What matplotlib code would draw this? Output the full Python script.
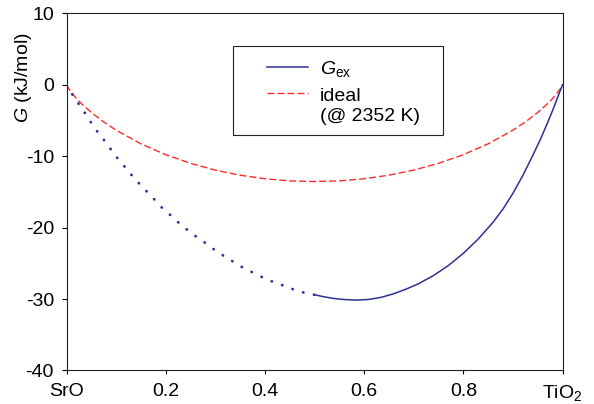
import numpy as np
import matplotlib
matplotlib.use('Agg')
import matplotlib.pyplot as plt
from matplotlib.patches import Rectangle

plt.rcParams['font.family'] = ['Liberation Sans', 'DejaVu Sans']
plt.rcParams['mathtext.fontset'] = 'custom'
plt.rcParams['mathtext.rm'] = 'Liberation Sans'
plt.rcParams['mathtext.it'] = 'Liberation Sans:italic'
plt.rcParams['axes.unicode_minus'] = False

# G_ex, SrO-rich side (dotted)
x_ex_dot = [0.0, 0.0125, 0.025, 0.038, 0.05, 0.063, 0.077, 0.09, 0.104, 0.119,
            0.133, 0.148, 0.164, 0.179, 0.195, 0.212, 0.229, 0.246, 0.264, 0.283,
            0.301, 0.32, 0.339, 0.358, 0.379, 0.399, 0.42, 0.441, 0.463, 0.484, 0.5]
g_ex_dot = [0.0, -1.44, -2.74, -4.05, -5.35, -6.65, -7.87, -9.1, -10.4, -11.6,
            -12.8, -13.95, -15.1, -16.2, -17.4, -18.4, -19.5, -20.45, -21.4, -22.3,
            -23.25, -24.1, -24.9, -25.7, -26.4, -27.1, -27.7, -28.2, -28.8, -29.2, -29.4]

# G_ex, TiO2-rich side (solid)
x_ex_line = [0.5, 0.52, 0.54, 0.56, 0.585, 0.61, 0.635, 0.66, 0.685, 0.71,
             0.74, 0.77, 0.8, 0.83, 0.86, 0.88, 0.9, 0.92, 0.94, 0.955,
             0.97, 0.98, 0.99, 1.0]
g_ex_line = [-29.4, -29.7, -29.93, -30.07, -30.15, -30.05, -29.75, -29.25, -28.6, -27.85,
             -26.7, -25.3, -23.6, -21.6, -19.25, -17.4, -15.2, -12.7, -9.9, -7.7,
             -5.3, -3.6, -1.8, 0.0]

# ideal mixing at 2352 K
x_ideal = [0.0, 0.005, 0.01, 0.02, 0.03, 0.05, 0.075, 0.1, 0.15, 0.2, 0.25, 0.3,
           0.35, 0.4, 0.45, 0.5, 0.55, 0.6, 0.65, 0.7, 0.75, 0.8, 0.85, 0.9,
           0.925, 0.95, 0.97, 0.98, 0.99, 0.995, 1.0]
g_ideal = [0.0, -0.62, -1.10, -1.92, -2.64, -3.88, -5.21, -6.36, -8.27, -9.79, -11.0, -11.95,
           -12.66, -13.16, -13.46, -13.55, -13.46, -13.16, -12.66, -11.95, -11.0, -9.79, -8.27, -6.36,
           -5.21, -3.88, -2.64, -1.92, -1.10, -0.62, 0.0]

xticks = [0, 0.2, 0.4, 0.6, 0.8, 1.0]
xlabels = ['SrO', '0.2', '0.4', '0.6', '0.8', 'TiO$_2$']
yticks = [-40, -30, -20, -10, 0, 10]

blue = '#2E3192'
red = '#FF2A2A'
fs = 14

fig = plt.figure(figsize=(5.94, 4.04), dpi=100)
ax = fig.add_axes([0.112, 0.083, 0.835, 0.884])

ax.plot(x_ideal, g_ideal, color=red, lw=1.0, linestyle=(0, (5, 2.2)))
ax.plot(x_ex_dot, g_ex_dot, color=blue, lw=2.0, linestyle=(0, (0.1, 3.9)),
        dash_capstyle='round')
ax.plot(x_ex_line, g_ex_line, color=blue, lw=1.1)

ax.set_xlim(0, 1)
ax.set_ylim(-40, 10)
ax.set_xticks(xticks)
ax.set_xticklabels(xlabels)
ax.set_yticks(yticks)
ax.tick_params(axis='both', labelsize=fs, direction='out', width=0.8)
ax.tick_params(axis='x', length=2.6, pad=6.5)
ax.tick_params(axis='y', length=3.6, pad=5.5)
for s in ax.spines.values():
    s.set_linewidth(0.8)
    s.set_color('#222222')
ax.set_ylabel('$G$ (kJ/mol)', fontsize=fs)
ax.yaxis.set_label_coords(-0.066, 0.82)

# legend box drawn by hand
ax.add_patch(Rectangle((0.336, 0.659), 0.423, 0.25, transform=ax.transAxes,
                       facecolor='white', edgecolor='#222222', lw=0.8, zorder=5))
ax.plot([0.404, 0.487], [0.849, 0.849], transform=ax.transAxes, color=blue, lw=1.1, zorder=6)
ax.plot([0.404, 0.487], [0.776, 0.776], transform=ax.transAxes, color=red, lw=1.0,
        linestyle=(0, (5, 2.2)), zorder=6)
ax.text(0.511, 0.8295, r'$G_\mathrm{ex}$', transform=ax.transAxes, fontsize=fs,
        va='baseline', zorder=6)
ax.text(0.511, 0.7551, 'ideal', transform=ax.transAxes, fontsize=fs, va='baseline', zorder=6)
ax.text(0.511, 0.698, '(@ 2352 K)', transform=ax.transAxes, fontsize=fs, va='baseline', zorder=6)

fig.savefig('out.png', dpi=100)
